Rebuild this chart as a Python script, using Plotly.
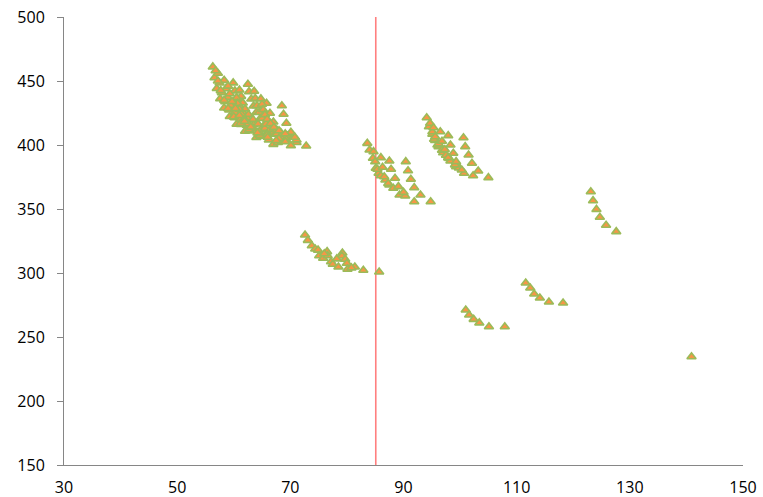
import plotly.graph_objects as go

# ---- data ----
# main cluster, arcs
a1_x = [56.3, 56.6, 57.0, 57.6, 58.3, 59.3, 60.5, 62.0, 64.0, 67.0]
a1_y = [461.0, 452.5, 444.1, 436.2, 428.9, 422.3, 416.2, 410.8, 405.9, 400.5]
a2_x = [57.2, 57.5, 57.9, 58.5, 59.2, 60.2, 61.3, 62.8, 64.8, 67.8]
a2_y = [456.0, 448.4, 440.9, 433.9, 427.4, 421.4, 416.0, 411.2, 406.9, 402.0]
a3_x = [58.3, 58.6, 59.0, 59.5, 60.2, 61.2, 62.3, 63.7, 65.6, 68.5]
a3_y = [450.5, 443.9, 437.2, 431.0, 425.3, 420.1, 415.4, 411.1, 407.3, 403.0]
a4_x = [59.9, 60.2, 60.6, 61.0, 61.7, 62.5, 63.5, 64.8, 66.6, 69.2]
a4_y = [448.5, 442.3, 436.2, 430.5, 425.2, 420.3, 415.9, 412.0, 408.5, 404.5]
a5_x = [61.0, 61.3, 61.6, 62.0, 62.6, 63.4, 64.3, 65.5, 67.1, 69.5]
a5_y = [443.0, 438.0, 432.9, 428.2, 423.9, 420.0, 416.4, 413.1, 410.2, 407.0]
a6_x = [62.5, 62.7, 63.1, 63.5, 64.0, 64.7, 65.6, 66.7, 68.3, 70.5]
a6_y = [447.5, 441.7, 435.9, 430.5, 425.5, 420.9, 416.8, 413.1, 409.7, 406.0]
a7_x = [63.6, 63.8, 64.1, 64.5, 65.0, 65.7, 66.5, 67.6, 69.0, 71.1]
a7_y = [442.0, 436.4, 430.8, 425.6, 420.8, 416.4, 412.4, 408.8, 405.6, 402.0]
a8_x = [65.8, 66.4, 67.0, 67.6, 68.2, 69.1, 70.1]
a8_y = [432.6, 424.8, 418.0, 411.7, 406.5, 402.6, 399.5]
a9_x = [68.5, 68.8, 69.3, 70.1, 71.1, 72.8]
a9_y = [430.7, 424.0, 417.0, 410.0, 404.0, 399.2]
a10_x = [60.5, 60.7, 61.0, 61.4, 61.9, 62.6, 63.4, 64.5, 65.9, 68.0]
a10_y = [437.0, 432.5, 428.0, 423.9, 420.0, 416.5, 413.3, 410.4, 407.9, 405.0]
a11_x = [64.8, 65.0, 65.2, 65.5, 65.9, 66.5, 67.1, 68.0, 69.1, 70.8]
a11_y = [436.0, 431.8, 427.6, 423.7, 420.1, 416.8, 413.8, 411.1, 408.7, 406.0]
a12_x = [56.8, 57.2, 57.7, 58.3, 59.0, 60.0, 61.2, 62.7, 64.6, 66.2]
a12_y = [458.0, 450.0, 442.5, 435.0, 428.5, 422.0, 417.0, 412.0, 407.5, 404.0]
a13_x = [59.0, 59.3, 59.7, 60.3, 61.0, 61.9, 63.0, 64.2, 66.0, 67.5]
a13_y = [446.0, 440.0, 434.0, 428.5, 423.0, 418.5, 414.0, 409.5, 406.0, 403.5]

# cluster around the red line
c2a_x = [83.6, 84.0, 84.6, 85.1, 85.6, 86.8]
c2a_y = [401.3, 396.1, 389.6, 381.8, 377.9, 372.7]
c2b_x = [84.7, 85.0, 85.4, 86.0, 87.5, 89.3]
c2b_y = [394.8, 387.0, 381.0, 376.0, 368.8, 360.9]
c2c_x = [86.0, 86.3, 86.6, 87.3, 88.2, 90.3]
c2c_y = [390.1, 382.6, 375.2, 370.0, 366.2, 360.2]
c2d_x = [87.5, 87.8, 88.5, 89.1, 90.0, 91.9]
c2d_y = [387.5, 381.0, 374.0, 367.5, 363.0, 355.7]
c2e_x = [90.4, 90.8, 91.3, 91.9, 93.0, 94.8]
c2e_y = [387.0, 379.9, 373.2, 366.7, 360.9, 355.7]

# cluster at 94-105
c3a_x = [94.1, 94.5, 95.1, 95.6, 96.2, 97.0, 98.1, 99.3]
c3a_y = [421.3, 414.3, 408.5, 403.5, 398.7, 394.0, 389.5, 385.5]
c3b_x = [94.7, 95.1, 95.4, 96.0, 97.0, 97.9, 99.3]
c3b_y = [417.0, 410.4, 404.5, 400.0, 396.1, 390.1, 383.1]
c3c_x = [95.3, 95.6, 96.2, 96.8, 97.5, 98.3, 99.8]
c3c_y = [413.5, 406.5, 401.0, 396.0, 392.0, 387.5, 382.0]
c3d_x = [96.5, 96.8, 97.3, 97.9, 99.1, 100.7]
c3d_y = [410.4, 402.9, 396.5, 390.1, 384.5, 377.9]
c3e_x = [97.9, 98.3, 98.8, 99.3, 100.3, 102.3]
c3e_y = [407.3, 400.0, 393.5, 387.0, 380.5, 376.0]
c3f_x = [100.6, 100.9, 101.5, 102.1, 103.2, 105.0]
c3f_y = [405.7, 398.7, 392.2, 385.7, 379.7, 374.5]

# cluster at 72-86, y 300-330
c4_x = [72.6, 73.1, 73.8, 74.4, 74.9, 75.1, 75.8, 76.5, 76.6, 77.2, 77.5, 78.5,
        79.2, 79.1, 79.7, 80.0, 80.1, 81.4, 82.9, 85.7, 76.0, 78.2, 80.8]
c4_y = [329.7, 325.5, 321.3, 318.8, 317.9, 313.5, 311.5, 316.7, 313.5, 308.8, 306.8, 304.7,
        315.6, 313.3, 310.7, 307.6, 302.9, 304.7, 302.1, 300.8, 315.0, 311.0, 304.0]

# small arcs on the right
c5_x = [123.1, 123.5, 124.1, 124.7, 125.8, 127.6]
c5_y = [363.5, 356.5, 349.7, 343.5, 337.3, 332.3]
c6_x = [111.6, 112.4, 113.1, 114.1, 115.7, 118.2]
c6_y = [292.2, 288.3, 283.6, 280.5, 277.3, 276.6]
c7_x = [101.0, 101.6, 102.4, 103.4, 105.1, 107.9]
c7_y = [271.1, 267.2, 263.8, 261.0, 258.0, 258.0]
c8_x = [140.9]
c8_y = [234.6]

ref_x = 85.1
x_ticks = [30, 50, 70, 90, 110, 130, 150]
y_ticks = [150, 200, 250, 300, 350, 400, 450, 500]

all_x = (a1_x + a2_x + a3_x + a4_x + a5_x + a6_x + a7_x + a8_x + a9_x + a10_x + a11_x
         + a12_x + a13_x
         + c2a_x + c2b_x + c2c_x + c2d_x + c2e_x
         + c3a_x + c3b_x + c3c_x + c3d_x + c3e_x + c3f_x
         + c4_x + c5_x + c6_x + c7_x + c8_x)
all_y = (a1_y + a2_y + a3_y + a4_y + a5_y + a6_y + a7_y + a8_y + a9_y + a10_y + a11_y
         + a12_y + a13_y
         + c2a_y + c2b_y + c2c_y + c2d_y + c2e_y
         + c3a_y + c3b_y + c3c_y + c3d_y + c3e_y + c3f_y
         + c4_y + c5_y + c6_y + c7_y + c8_y)

fig = go.Figure()
fig.add_trace(go.Scatter(
    x=[ref_x, ref_x], y=[y_ticks[0], y_ticks[-1]], mode="lines",
    line=dict(color="#FF7F7F", width=1.6), hoverinfo="skip", showlegend=False))
fig.add_trace(go.Scatter(
    x=all_x, y=all_y, mode="markers",
    marker=dict(symbol="triangle-up", size=8, color="#F79646",
                line=dict(color="#9BBB59", width=1.6)),
    showlegend=False))

fig.update_layout(
    width=763, height=497,
    margin=dict(l=64, r=20, t=17, b=32, autoexpand=False),
    paper_bgcolor="white", plot_bgcolor="white",
    font=dict(family="Open Sans, Lato, sans-serif", size=16, color="#000000"),
)
fig.update_xaxes(range=[30, 150], tickvals=x_ticks, showgrid=False, zeroline=False,
                 showline=True, linecolor="#868686", linewidth=1, ticks="",
                 ticklabelstandoff=8, automargin=False, ticklabeloverflow="allow")
fig.update_yaxes(range=[150, 500], tickvals=y_ticks, showgrid=False, zeroline=False,
                 showline=True, linecolor="#868686", linewidth=1, ticks="outside",
                 ticklen=6, tickcolor="#868686", ticklabelstandoff=9, automargin=False,
                 ticklabeloverflow="allow")

# remove the browser's default 8px body margin so the figure fills the window
fig.write_html("out.html",
               config={"displayModeBar": False},
               post_script="document.body.style.margin='0';document.body.style.overflow='hidden';")
